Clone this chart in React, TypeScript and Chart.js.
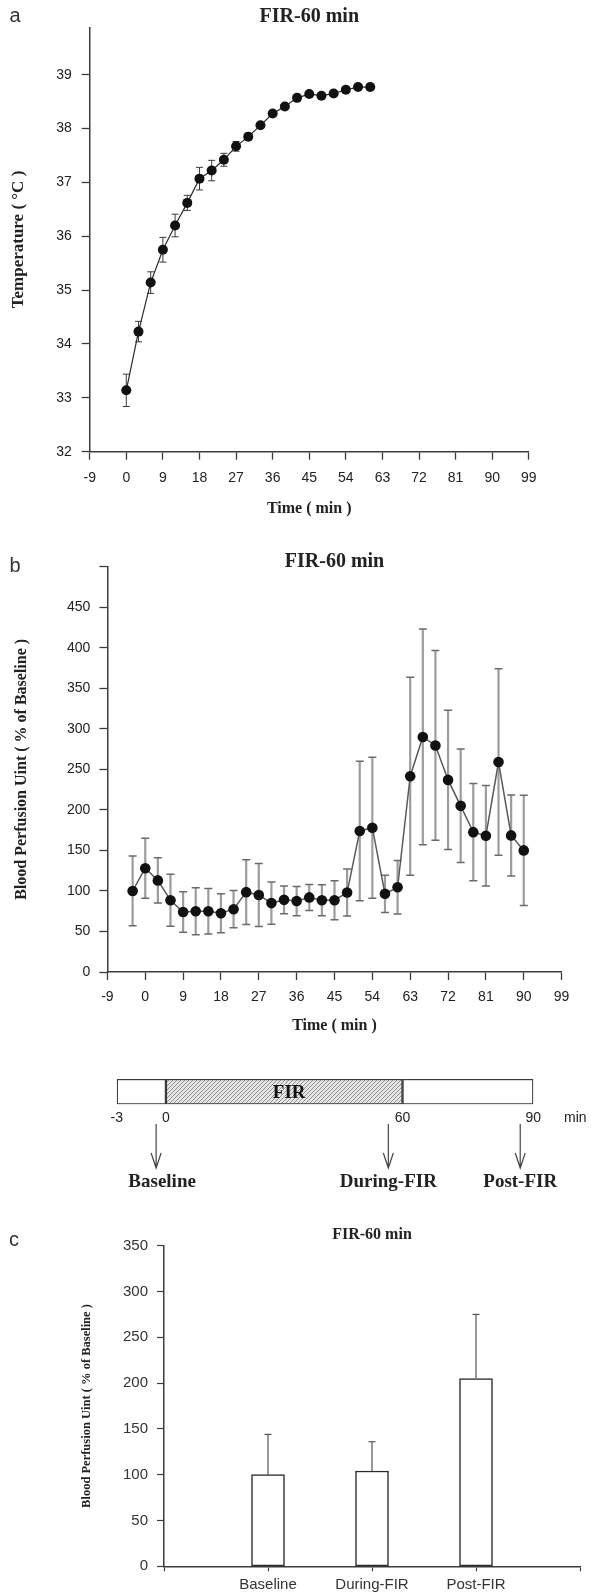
import React, { useEffect, useRef } from 'react';
import { Chart, registerables, LinearScale } from 'chart.js';

Chart.register(...registerables);

// ---------------- Data ----------------
// Panel a: skin temperature during FIR (mean ± SE)
const tempTimes = [0, 3, 6, 9, 12, 15, 18, 21, 24, 27, 30, 33, 36, 39, 42, 45, 48, 51, 54, 57, 60];
const tempMeans = [33.14, 34.23, 35.14, 35.75, 36.2, 36.62, 37.07, 37.22, 37.42, 37.67, 37.85, 38.06, 38.28, 38.41, 38.57, 38.64, 38.61, 38.65, 38.72, 38.77, 38.77];
const tempErrors = [0.3, 0.19, 0.2, 0.23, 0.21, 0.14, 0.21, 0.19, 0.12, 0.09, 0.06, 0.05, 0.05, 0.04, 0.04, 0.04, 0.03, 0.03, 0.03, 0.03, 0.03];

// Panel b: blood perfusion (% of baseline)
const perfTimes = [-3, 0, 3, 6, 9, 12, 15, 18, 21, 24, 27, 30, 33, 36, 39, 42, 45, 48, 51, 54, 57, 60, 63, 66, 69, 72, 75, 78, 81, 84, 87, 90];
const perfMeans = [100, 128, 113, 88.5, 74, 75, 75, 72.5, 77.5, 98.5, 95, 85, 89, 87.5, 92, 88.5, 88.5, 98, 174, 178, 96.5, 104.5, 241.5, 290, 279.5, 237, 205, 172.5, 168, 259, 168.5, 150];
const perfErrors = [43, 37, 28, 32, 25, 29, 28, 24, 23, 40, 39, 26, 17, 18, 16, 19, 24, 29, 86, 87, 23, 33, 122, 133, 117, 86, 70, 60, 62, 115, 50, 68];

// Timeline schematic
const timelineBounds = [-3, 0, 60, 90];
const timelineSegments = ['', 'FIR', ''];
const phaseTimes = [-0.6, 56.4, 87];
const phaseLabels = ['Baseline', 'During-FIR', 'Post-FIR'];

// Panel c: phase means
const phaseMeans = [100, 104, 205];
const phaseErrors = [44, 32, 70];

// ---------------- Styling helpers ----------------
const SANS = '"Liberation Sans", Arial, sans-serif';
const SERIF = '"Liberation Serif", "Times New Roman", serif';
const TEXT = '#222';
const AXIS = '#3c3c3c';

// schematic (not-to-scale) timeline axis: fraction of width at each bound
const timelineFractions = [0, 0.118, 0.686, 1];

function pieceFrac(v: number): number {
  const b = timelineBounds;
  const f = timelineFractions;
  let i = 0;
  while (i < b.length - 2 && v > b[i + 1]) i++;
  return f[i] + ((v - b[i]) * (f[i + 1] - f[i])) / (b[i + 1] - b[i]);
}
function pieceValue(fr: number): number {
  const b = timelineBounds;
  const f = timelineFractions;
  let i = 0;
  while (i < f.length - 2 && fr > f[i + 1]) i++;
  return b[i] + ((fr - f[i]) * (b[i + 1] - b[i])) / (f[i + 1] - f[i]);
}

class PiecewiseScale extends LinearScale {
  getPixelForValue(value: number) {
    return this.left + pieceFrac(value) * this.width;
  }
  getValueForPixel(pixel: number) {
    return pieceValue((pixel - this.left) / this.width);
  }
}
(PiecewiseScale as any).id = 'piecewise';
(PiecewiseScale as any).defaults = (LinearScale as any).defaults;
Chart.register(PiecewiseScale as any);

type TextItem = {
  text: string;
  x: number | ((c: any) => number);
  y: number;
  font: string;
  color?: string;
  align?: CanvasTextAlign;
};

function textPlugin(id: string, items: TextItem[]) {
  return {
    id,
    afterDraw(chart: any) {
      const ctx = chart.ctx as CanvasRenderingContext2D;
      ctx.save();
      for (const it of items) {
        ctx.font = it.font;
        ctx.fillStyle = it.color || TEXT;
        ctx.textAlign = it.align || 'center';
        ctx.textBaseline = 'middle';
        const x = typeof it.x === 'function' ? it.x(chart) : it.x;
        ctx.fillText(it.text, x, it.y);
      }
      ctx.restore();
    },
  };
}

function errorBarPlugin(
  xs: number[],
  means: number[],
  errs: number[],
  o: { stem: string; stemWidth: number; cap: string; capWidth: number; capHalf: number; upperOnly?: boolean; front?: boolean }
) {
  const draw = (chart: any) => {
    const ctx = chart.ctx as CanvasRenderingContext2D;
    const xs_ = chart.scales.x;
    const ys = chart.scales.y;
    ctx.save();
    for (let i = 0; i < xs.length; i++) {
      const px = xs_.getPixelForValue(xs[i]);
      const top = ys.getPixelForValue(means[i] + errs[i]);
      const bot = o.upperOnly ? ys.getPixelForValue(means[i]) : ys.getPixelForValue(means[i] - errs[i]);
      ctx.strokeStyle = o.stem;
      ctx.lineWidth = o.stemWidth;
      ctx.beginPath();
      ctx.moveTo(px, top);
      ctx.lineTo(px, bot);
      ctx.stroke();
      ctx.strokeStyle = o.cap;
      ctx.lineWidth = o.capWidth;
      ctx.beginPath();
      ctx.moveTo(px - o.capHalf, top);
      ctx.lineTo(px + o.capHalf, top);
      if (!o.upperOnly) {
        ctx.moveTo(px - o.capHalf, bot);
        ctx.lineTo(px + o.capHalf, bot);
      }
      ctx.stroke();
    }
    ctx.restore();
  };
  return {
    id: 'errorBars',
    beforeDatasetsDraw(chart: any) {
      if (!o.front) draw(chart);
    },
    afterDatasetsDraw(chart: any) {
      if (o.front) draw(chart);
    },
  };
}

const tickFont = (size: number) => ({ family: SANS, size });
const serifBold = (size: number) => ({ family: SERIF, size, weight: 'bold' as const });

// ---------------- Chart builders ----------------
function buildA(canvas: HTMLCanvasElement) {
  return new Chart(canvas, {
    type: 'line',
    data: {
      datasets: [
        {
          data: tempTimes.map((t, i) => ({ x: t, y: tempMeans[i] })),
          borderColor: '#2a2a2a',
          borderWidth: 1.2,
          pointRadius: 5,
          pointBackgroundColor: '#111',
          pointBorderColor: '#111',
          pointBorderWidth: 0,
          tension: 0,
          fill: false,
        },
      ],
    },
    options: {
      responsive: false,
      animation: false,
      layout: { padding: { left: 0, right: 62.2, top: 27.3, bottom: 0 } },
      plugins: { legend: { display: false }, tooltip: { enabled: false } },
      scales: {
        x: {
          type: 'linear',
          min: -9,
          max: 99,
          ticks: { stepSize: 9, includeBounds: false, autoSkip: false, maxRotation: 0, font: tickFont(14), color: TEXT, padding: 10 },
          grid: { drawOnChartArea: false, tickLength: 8, tickColor: AXIS, tickWidth: 1.3 },
          border: { color: AXIS, width: 1.5 },
          title: { display: true, text: 'Time ( min )', font: serifBold(16), color: TEXT, padding: { top: 0, bottom: 12 } },
          afterFit: (s: any) => {
            s.height = 78.3;
          },
        },
        y: {
          min: 32,
          max: 39.88,
          ticks: { stepSize: 1, includeBounds: false, font: tickFont(14), color: TEXT, padding: 10 },
          grid: { drawOnChartArea: false, tickLength: 8, tickColor: AXIS, tickWidth: 1.3 },
          border: { color: AXIS, width: 1.5 },
          title: { display: true, text: 'Temperature ( °C )', font: serifBold(17), color: TEXT, padding: { top: 8, bottom: 0 } },
          afterFit: (s: any) => {
            s.width = 89.7;
          },
        },
      },
    },
    plugins: [
      errorBarPlugin(tempTimes, tempMeans, tempErrors, { stem: '#3a3a3a', stemWidth: 1, cap: '#3a3a3a', capWidth: 1, capHalf: 3.5 }),
      textPlugin('textA', [
        { text: 'a', x: 15, y: 16, font: `20px ${SANS}`, color: '#333' },
        { text: 'FIR-60 min', x: 309.3, y: 17, font: `bold 20px ${SERIF}` },
      ]),
    ],
  } as any);
}

function buildB(canvas: HTMLCanvasElement) {
  return new Chart(canvas, {
    type: 'line',
    data: {
      datasets: [
        {
          data: perfTimes.map((t, i) => ({ x: t, y: perfMeans[i] })),
          borderColor: '#5a5a5a',
          borderWidth: 1.5,
          pointRadius: 5.3,
          pointBackgroundColor: '#111',
          pointBorderColor: '#111',
          pointBorderWidth: 0,
          tension: 0,
          fill: false,
        },
      ],
    },
    options: {
      responsive: false,
      animation: false,
      layout: { padding: { left: 0, right: 29.4, top: 36.7, bottom: 0 } },
      plugins: { legend: { display: false }, tooltip: { enabled: false } },
      scales: {
        x: {
          type: 'linear',
          min: -9,
          max: 99,
          ticks: { stepSize: 9, includeBounds: false, autoSkip: false, maxRotation: 0, font: tickFont(14), color: TEXT, padding: 9 },
          grid: { drawOnChartArea: false, tickLength: 8, tickColor: AXIS, tickWidth: 1.3 },
          border: { color: AXIS, width: 1.5 },
          title: { display: true, text: 'Time ( min )', font: serifBold(16), color: TEXT, padding: { top: 0, bottom: 9.7 } },
          afterFit: (s: any) => {
            s.height = 73;
          },
        },
        y: {
          min: 0,
          max: 500,
          ticks: {
            stepSize: 50,
            font: tickFont(14),
            color: TEXT,
            padding: 9,
            callback: (v: any) => (Number(v) === 500 ? '' : String(v)),
          },
          grid: { drawOnChartArea: false, tickLength: 8, tickColor: AXIS, tickWidth: 1.3 },
          border: { color: AXIS, width: 1.5 },
          title: { display: true, text: 'Blood Perfusion Uint ( % of Baseline )', font: serifBold(16), color: TEXT, padding: { top: 12, bottom: 0 } },
          afterFit: (s: any) => {
            s.width = 107.4;
          },
        },
      },
    },
    plugins: [
      errorBarPlugin(perfTimes, perfMeans, perfErrors, { stem: '#9c9c9c', stemWidth: 2.2, cap: '#6a6a6a', capWidth: 1.5, capHalf: 4 }),
      textPlugin('textB', [
        { text: 'b', x: 15, y: 36, font: `20px ${SANS}`, color: '#333' },
        { text: 'FIR-60 min', x: 334.5, y: 31.7, font: `bold 20px ${SERIF}` },
      ]),
    ],
  } as any);
}

function makeHatch(): any {
  const c = document.createElement('canvas');
  c.width = 4;
  c.height = 4;
  const g = c.getContext('2d');
  if (!g) return '#cfcfcf';
  g.fillStyle = '#e6e6e6';
  g.fillRect(0, 0, 4, 4);
  g.strokeStyle = '#909090';
  g.lineWidth = 1;
  g.beginPath();
  g.moveTo(0, 4);
  g.lineTo(4, 0);
  g.moveTo(-1, 1);
  g.lineTo(1, -1);
  g.moveTo(3, 5);
  g.lineTo(5, 3);
  g.stroke();
  return g.createPattern(c, 'repeat') || '#cfcfcf';
}

function buildTimeline(canvas: HTMLCanvasElement) {
  const hatch = makeHatch();
  const arrowPlugin = {
    id: 'phaseArrows',
    afterDraw(chart: any) {
      const ctx = chart.ctx as CanvasRenderingContext2D;
      const xs = chart.scales.x;
      ctx.save();
      ctx.strokeStyle = '#444';
      ctx.lineWidth = 1.2;
      for (let i = 0; i < phaseTimes.length; i++) {
        const px = xs.getPixelForValue(phaseTimes[i]);
        const y1 = 79;
        const y2 = 123;
        ctx.beginPath();
        ctx.moveTo(px, y1);
        ctx.lineTo(px, y2);
        ctx.moveTo(px - 5, y2 - 15);
        ctx.lineTo(px, y2);
        ctx.lineTo(px + 5, y2 - 15);
        ctx.stroke();
        ctx.font = `bold 19px ${SERIF}`;
        ctx.fillStyle = TEXT;
        ctx.textAlign = 'center';
        ctx.textBaseline = 'middle';
        ctx.fillText(phaseLabels[i], px + (i === 0 ? 6 : 0), 137);
      }
      // segment label
      for (let i = 0; i < timelineSegments.length; i++) {
        if (!timelineSegments[i]) continue;
        const cx = (xs.getPixelForValue(timelineBounds[i]) + xs.getPixelForValue(timelineBounds[i + 1])) / 2 + 5;
        ctx.font = `bold 19px ${SERIF}`;
        ctx.fillStyle = '#111';
        ctx.fillText(timelineSegments[i], cx, 48);
      }
      ctx.font = `14px ${SANS}`;
      ctx.fillStyle = TEXT;
      ctx.fillText('min', xs.right + 42, 73);
      ctx.restore();
    },
  };
  return new Chart(canvas, {
    type: 'bar',
    data: {
      labels: [''],
      datasets: timelineSegments.map((lab, i) => ({
        label: lab || 'period',
        data: [[timelineBounds[i], timelineBounds[i + 1]]],
        backgroundColor: lab ? hatch : '#ffffff',
        borderColor: '#3a3a3a',
        borderWidth: 1.5,
        borderSkipped: false,
        grouped: false,
        barPercentage: 1,
        categoryPercentage: 1,
      })),
    },
    options: {
      indexAxis: 'y',
      responsive: false,
      animation: false,
      layout: { padding: { left: 116.8, right: 57.7, top: 34, bottom: 0 } },
      plugins: { legend: { display: false }, tooltip: { enabled: false } },
      scales: {
        x: {
          type: 'piecewise',
          min: -3,
          max: 90,
          afterBuildTicks: (s: any) => {
            s.ticks = timelineBounds.map((v) => ({ value: v }));
          },
          ticks: { autoSkip: false, maxRotation: 0, font: tickFont(14), color: TEXT, padding: 5.3, callback: (v: any) => String(v) },
          grid: { display: false, drawTicks: false },
          border: { display: false },
          afterFit: (s: any) => {
            s.height = 95.7;
          },
        },
        y: { display: false },
      },
    },
    plugins: [arrowPlugin],
  } as any);
}

function buildC(canvas: HTMLCanvasElement) {
  const labels = ['', ...phaseLabels, ''];
  return new Chart(canvas, {
    type: 'bar',
    data: {
      labels,
      datasets: [
        {
          data: [null, ...phaseMeans, null],
          backgroundColor: '#ffffff',
          borderColor: '#2a2a2a',
          borderWidth: 1.5,
          borderSkipped: false,
          barThickness: 33,
        },
      ],
    },
    options: {
      responsive: false,
      animation: false,
      layout: { padding: { left: 0, right: 11, top: 45.7, bottom: 0 } },
      plugins: { legend: { display: false }, tooltip: { enabled: false } },
      scales: {
        x: {
          type: 'category',
          offset: false,
          ticks: { autoSkip: false, maxRotation: 0, font: tickFont(15), color: '#333', padding: 4.5 },
          grid: { offset: false, drawOnChartArea: false, tickLength: 5, tickColor: AXIS, tickWidth: 1.2 },
          border: { color: AXIS, width: 1.5 },
          afterFit: (s: any) => {
            s.height = 29.7;
          },
        },
        y: {
          min: 0,
          max: 350,
          ticks: { stepSize: 50, font: tickFont(15), color: '#333', padding: 9 },
          grid: { drawOnChartArea: false, tickLength: 7, tickColor: AXIS, tickWidth: 1.2 },
          border: { color: AXIS, width: 1.5 },
          title: { display: true, text: 'Blood Perfusion Uint ( % of Baseline )', font: serifBold(12.5), color: TEXT, padding: { top: 79, bottom: 0 } },
          afterFit: (s: any) => {
            s.width = 164;
          },
        },
      },
    },
    plugins: [
      errorBarPlugin(
        phaseLabels.map((_, i) => i + 1),
        phaseMeans,
        phaseErrors,
        { stem: '#555', stemWidth: 1.2, cap: '#555', capWidth: 1.2, capHalf: 3.5, upperOnly: true, front: true }
      ),
      textPlugin('textC', [
        { text: 'c', x: 14, y: 40, font: `20px ${SANS}`, color: '#333' },
        { text: 'FIR-60 min', x: 372, y: 35, font: `bold 16px ${SERIF}` },
      ]),
    ],
  } as any);
}

function ChartCanvas({ top, height, build }: { top: number; height: number; build: (c: HTMLCanvasElement) => Chart }) {
  const ref = useRef<HTMLCanvasElement | null>(null);
  useEffect(() => {
    if (!ref.current) return;
    const chart = build(ref.current);
    return () => chart.destroy();
  }, [build]);
  return (
    <div style={{ position: 'absolute', left: 0, top, width: 591, height }}>
      <canvas ref={ref} width={591} height={height} style={{ display: 'block', width: 591, height }} />
    </div>
  );
}

export default function App() {
  return (
    <div style={{ position: 'absolute', left: 0, top: 0, width: 591, height: 1596, background: '#fff', overflow: 'hidden' }}>
      <ChartCanvas top={0} height={530} build={buildA} />
      <ChartCanvas top={530} height={515} build={buildB} />
      <ChartCanvas top={1045} height={155} build={buildTimeline} />
      <ChartCanvas top={1200} height={396} build={buildC} />
    </div>
  );
}
